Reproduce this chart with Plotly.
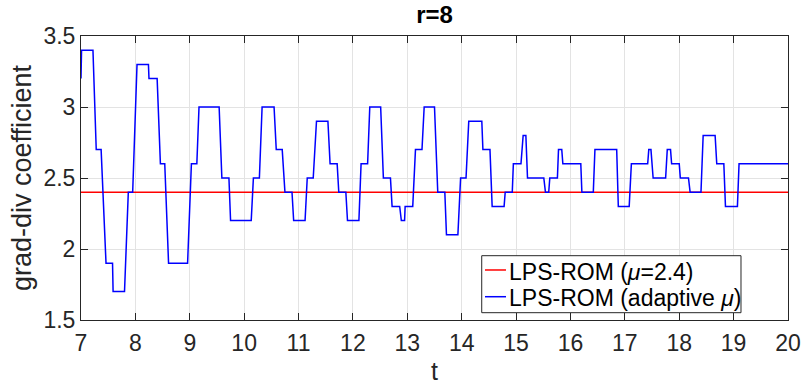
import plotly.graph_objects as go

# Adaptive grad-div coefficient over time (polyline vertices)
t_adapt = [
    7.00, 7.01, 7.22, 7.28, 7.37, 7.46, 7.58, 7.59, 7.80, 7.87,
    7.95, 8.03, 8.24, 8.25, 8.40, 8.46, 8.54, 8.61, 8.96, 9.03,
    9.13, 9.17, 9.54, 9.59, 9.72, 9.75, 10.13, 10.17, 10.28, 10.33,
    10.55, 10.59, 10.70, 10.75, 10.88, 10.91, 11.12, 11.16, 11.27, 11.33,
    11.54, 11.58, 11.71, 11.74, 11.87, 11.90, 12.11, 12.15, 12.27, 12.31,
    12.51, 12.56, 12.69, 12.72, 12.86, 12.89, 12.95, 12.96, 13.10, 13.15,
    13.27, 13.31, 13.50, 13.56, 13.69, 13.72, 13.93, 13.98, 14.08, 14.13,
    14.37, 14.39, 14.52, 14.56, 14.78, 14.80, 14.93, 14.95, 15.09, 15.13,
    15.18, 15.21, 15.51, 15.54, 15.60, 15.62, 15.76, 15.78, 15.84, 15.86,
    16.19, 16.21, 16.42, 16.45, 16.85, 16.88, 17.08, 17.12, 17.42, 17.44,
    17.48, 17.52, 17.75, 17.78, 17.84, 17.86, 18.00, 18.02, 18.17, 18.20,
    18.40, 18.44, 18.66, 18.69, 18.82, 18.85, 19.07, 19.10, 20.00,
]
mu_adapt = [
    3.2, 3.4, 3.4, 2.7, 2.7, 1.9, 1.9, 1.7, 1.7, 2.4,
    2.4, 3.3, 3.3, 3.2, 3.2, 2.6, 2.6, 1.9, 1.9, 2.6,
    2.6, 3.0, 3.0, 2.5, 2.5, 2.2, 2.2, 2.5, 2.5, 3.0,
    3.0, 2.7, 2.7, 2.4, 2.4, 2.2, 2.2, 2.5, 2.5, 2.9,
    2.9, 2.6, 2.6, 2.4, 2.4, 2.2, 2.2, 2.6, 2.6, 3.0,
    3.0, 2.5, 2.5, 2.3, 2.3, 2.2, 2.2, 2.3, 2.3, 2.7,
    2.7, 3.0, 3.0, 2.4, 2.4, 2.1, 2.1, 2.5, 2.5, 2.9,
    2.9, 2.7, 2.7, 2.3, 2.3, 2.4, 2.4, 2.6, 2.6, 2.8,
    2.8, 2.5, 2.5, 2.4, 2.4, 2.5, 2.5, 2.7, 2.7, 2.6,
    2.6, 2.4, 2.4, 2.7, 2.7, 2.3, 2.3, 2.6, 2.6, 2.7,
    2.7, 2.5, 2.5, 2.7, 2.7, 2.6, 2.6, 2.5, 2.5, 2.4,
    2.4, 2.8, 2.8, 2.6, 2.6, 2.3, 2.3, 2.6, 2.6,
]

# Fixed coefficient
t_fixed = [7, 20]
mu_fixed = 2.4

x_ticks = list(range(7, 21))
y_ticks = [1.5, 2, 2.5, 3, 3.5]

series_names = ["LPS-ROM (<i>μ</i>=2.4)", "LPS-ROM (adaptive <i>μ</i>)"]
series_colors = ["#ff0000", "#0000ff"]

FONT = "Liberation Sans, Arial, Helvetica, sans-serif"
INK = "#262626"

fig = go.Figure()
fig.add_trace(go.Scatter(
    x=t_fixed, y=[mu_fixed] * len(t_fixed), mode="lines",
    line=dict(color=series_colors[0], width=1.5),
    name=series_names[0], showlegend=False,
))
fig.add_trace(go.Scatter(
    x=t_adapt, y=mu_adapt, mode="lines",
    line=dict(color=series_colors[1], width=1.5),
    name=series_names[1], showlegend=False,
))

axis_common = dict(
    showline=True, linecolor=INK, linewidth=1, mirror="ticks",
    ticks="inside", ticklen=7, tickcolor=INK, tickwidth=1,
    showgrid=True, gridcolor="#e3e3e3", gridwidth=1,
    zeroline=False, automargin=False,
    tickfont=dict(family=FONT, size=23, color=INK),
)

fig.update_xaxes(
    range=[7, 20], tickvals=x_ticks, ticktext=[str(v) for v in x_ticks],
    ticklabelstandoff=2,
    title=dict(text="t", font=dict(family=FONT, size=25, color=INK), standoff=14),
    **axis_common,
)
fig.update_yaxes(
    range=[1.5, 3.5], tickvals=y_ticks, ticktext=[f"{v:g}" for v in y_ticks],
    title=dict(text="grad-div coefficient", font=dict(family=FONT, size=27, color=INK), standoff=3),
    **axis_common,
)

# Boxed legend in the lower right of the axes (paper coordinates)
box_x0, box_x1, box_y0, box_y1 = 0.5668, 0.9335, 0.0257, 0.2264
sample_x0, sample_x1 = 0.5714, 0.6011
row_line_y = [0.1761, 0.0820]
row_text_y = [0.1680, 0.0765]
text_x = 0.6035

shapes = [dict(
    type="rect", xref="paper", yref="paper",
    x0=box_x0, x1=box_x1, y0=box_y0, y1=box_y1,
    line=dict(color=INK, width=1), fillcolor="white", layer="above",
)]
annotations = []
for name, color, ly, ty in zip(series_names, series_colors, row_line_y, row_text_y):
    shapes.append(dict(
        type="line", xref="paper", yref="paper",
        x0=sample_x0, x1=sample_x1, y0=ly, y1=ly,
        line=dict(color=color, width=1.5), layer="above",
    ))
    annotations.append(dict(
        xref="paper", yref="paper", x=text_x, y=ty,
        xanchor="left", yanchor="middle", showarrow=False,
        text=name, font=dict(family=FONT, size=23, color="#000000"),
        borderpad=0,
    ))

fig.update_layout(
    width=804, height=385,
    margin=dict(l=81, r=16, t=36, b=65),
    paper_bgcolor="white", plot_bgcolor="white",
    font=dict(family=FONT, color=INK),
    title=dict(
        text="<b>r=8</b>", x=0.5405, xanchor="center",
        y=0.962, yref="container", yanchor="middle",
        font=dict(family=FONT, size=24, color="#000000"),
    ),
    shapes=shapes,
    annotations=annotations,
    showlegend=False,
)

fig.write_html("out.html")
